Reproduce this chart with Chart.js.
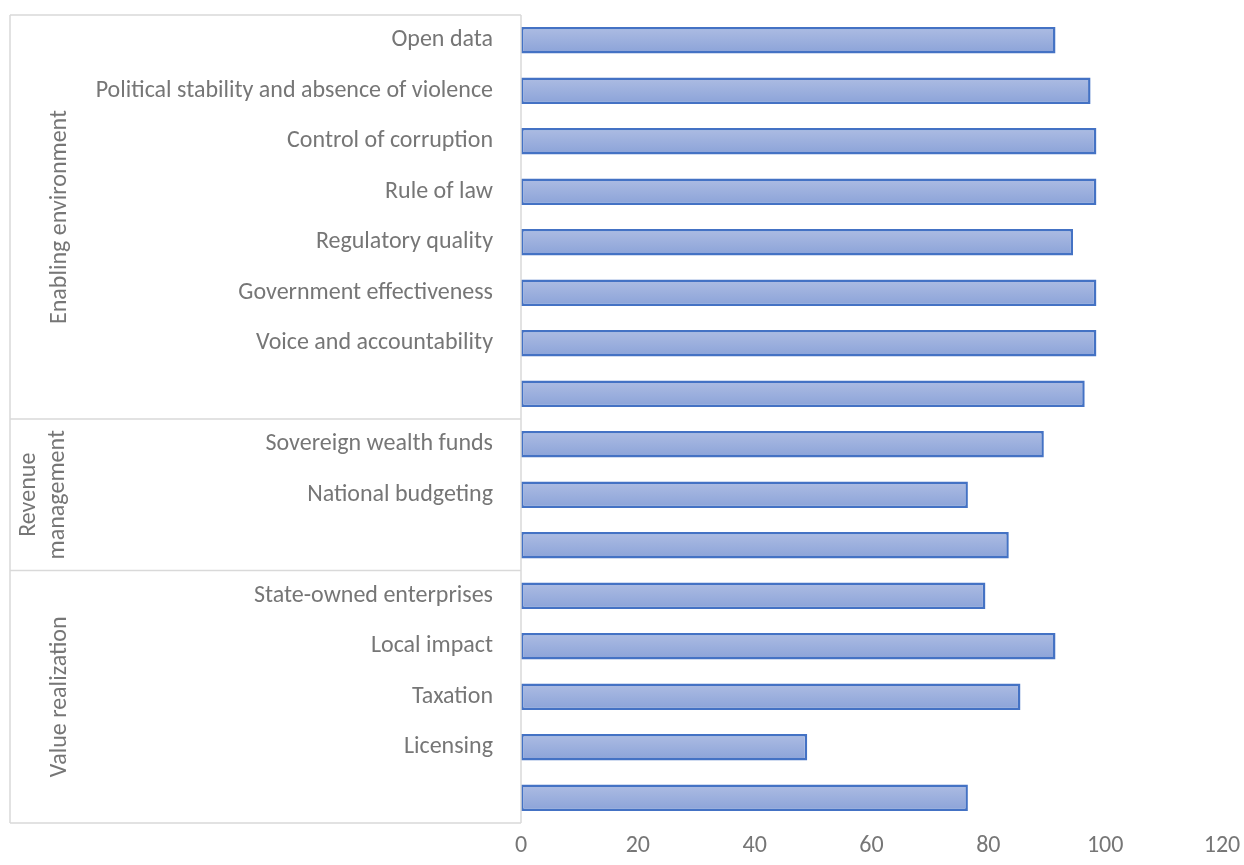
<!DOCTYPE html>
<html>
<head>
<meta charset="utf-8">
<script src="https://cdn.jsdelivr.net/npm/chart.js@4"></script>
<style>
  html, body { margin: 0; padding: 0; background: #fff; }
  #wrap { width: 1244px; height: 865px; position: relative; }
</style>
</head>
<body>
<div id="wrap"><canvas id="scoreChart"></canvas></div>
<script>
const categories = [
  "Open data",
  "Political stability and absence of violence",
  "Control of corruption",
  "Rule of law",
  "Regulatory quality",
  "Government effectiveness",
  "Voice and accountability",
  "",
  "Sovereign wealth funds",
  "National budgeting",
  "",
  "State-owned enterprises",
  "Local impact",
  "Taxation",
  "Licensing",
  ""
];
const scores = [91.5, 97.5, 98.5, 98.5, 94.5, 98.5, 98.5, 96.5, 89.5, 76.5, 83.5, 79.5, 91.5, 85.5, 49, 76.5];

// component groups: label lines, first and last category index
const groupNames = [["Enabling environment"], ["Revenue", "management"], ["Value realization"]];
const groupStart = [0, 8, 11];
const groupEnd = [7, 10, 15];

const xTicks = [0, 20, 40, 60, 80, 100, 120];

const FONT = "Carlito, 'Liberation Sans', Arial, sans-serif";
const FONT_SIZE = 24;
const TEXT = "#767676";
const LINE = "#d9d9d9";

function barFill(ctx) {
  const chart = ctx.chart;
  const y = chart.scales.y;
  if (!chart.chartArea || !y || ctx.dataIndex === undefined) return "#9aafde";
  const mid = y.getPixelForValue(ctx.dataIndex);
  const half = 14;
  const g = chart.ctx.createLinearGradient(0, mid - half, 0, mid + half);
  g.addColorStop(0, "#aebde3");
  g.addColorStop(1, "#8aa2d8");
  return g;
}

// group column on the left: box lines and rotated group names
const groupAxis = {
  id: "groupAxis",
  afterDraw(chart) {
    const c = chart.ctx;
    const y = chart.scales.y;
    const left = 10;
    const right = y.right;
    const slot = y.getPixelForValue(1) - y.getPixelForValue(0);
    const edge = i => y.getPixelForValue(i) - slot / 2;
    c.save();
    c.strokeStyle = LINE;
    c.lineWidth = 1.5;
    c.beginPath();
    c.moveTo(left, edge(0));
    c.lineTo(left, edge(categories.length));
    groupStart.forEach(s => { c.moveTo(left, edge(s)); c.lineTo(right, edge(s)); });
    c.moveTo(left, edge(categories.length));
    c.lineTo(right, edge(categories.length));
    c.moveTo(right, edge(0));
    c.lineTo(right, edge(categories.length));
    c.stroke();

    c.fillStyle = TEXT;
    c.font = FONT_SIZE + "px " + FONT;
    c.textAlign = "center";
    c.textBaseline = "middle";
    groupNames.forEach((lines, k) => {
      const cy = (edge(groupStart[k]) + edge(groupEnd[k] + 1)) / 2;
      const lh = 29;
      const cx = lines.length > 1 ? 43 : 60;
      lines.forEach((t, j) => {
        c.save();
        c.translate(cx + (j - (lines.length - 1) / 2) * lh, cy);
        c.rotate(-Math.PI / 2);
        c.fillText(t, 0, 0);
        c.restore();
      });
    });
    c.restore();
  }
};

new Chart(document.getElementById("scoreChart"), {
  type: "bar",
  data: {
    labels: categories,
    datasets: [{
      data: scores,
      backgroundColor: barFill,
      borderColor: "#4472c4",
      borderWidth: 2.5,
      borderSkipped: false,
      barPercentage: 0.52,
      categoryPercentage: 1
    }]
  },
  options: {
    indexAxis: "y",
    responsive: true,
    maintainAspectRatio: false,
    animation: false,
    layout: { padding: { top: 15, right: 22, bottom: 0, left: 0 } },
    plugins: { legend: { display: false }, tooltip: { enabled: false } },
    scales: {
      x: {
        min: 0,
        max: 120,
        afterBuildTicks: axis => { axis.ticks = xTicks.map(v => ({ value: v })); },
        afterFit: axis => { axis.height = 42; },
        grid: { display: false },
        border: { display: false },
        ticks: { color: TEXT, font: { family: FONT, size: FONT_SIZE }, padding: 1 }
      },
      y: {
        afterFit: axis => { axis.width = 521; axis.paddingTop = 0; axis.paddingBottom = 0; },
        grid: { display: false },
        border: { display: false },
        ticks: { color: TEXT, font: { family: FONT, size: FONT_SIZE }, padding: 20 }
      }
    }
  },
  plugins: [groupAxis]
});
</script>
</body>
</html>
